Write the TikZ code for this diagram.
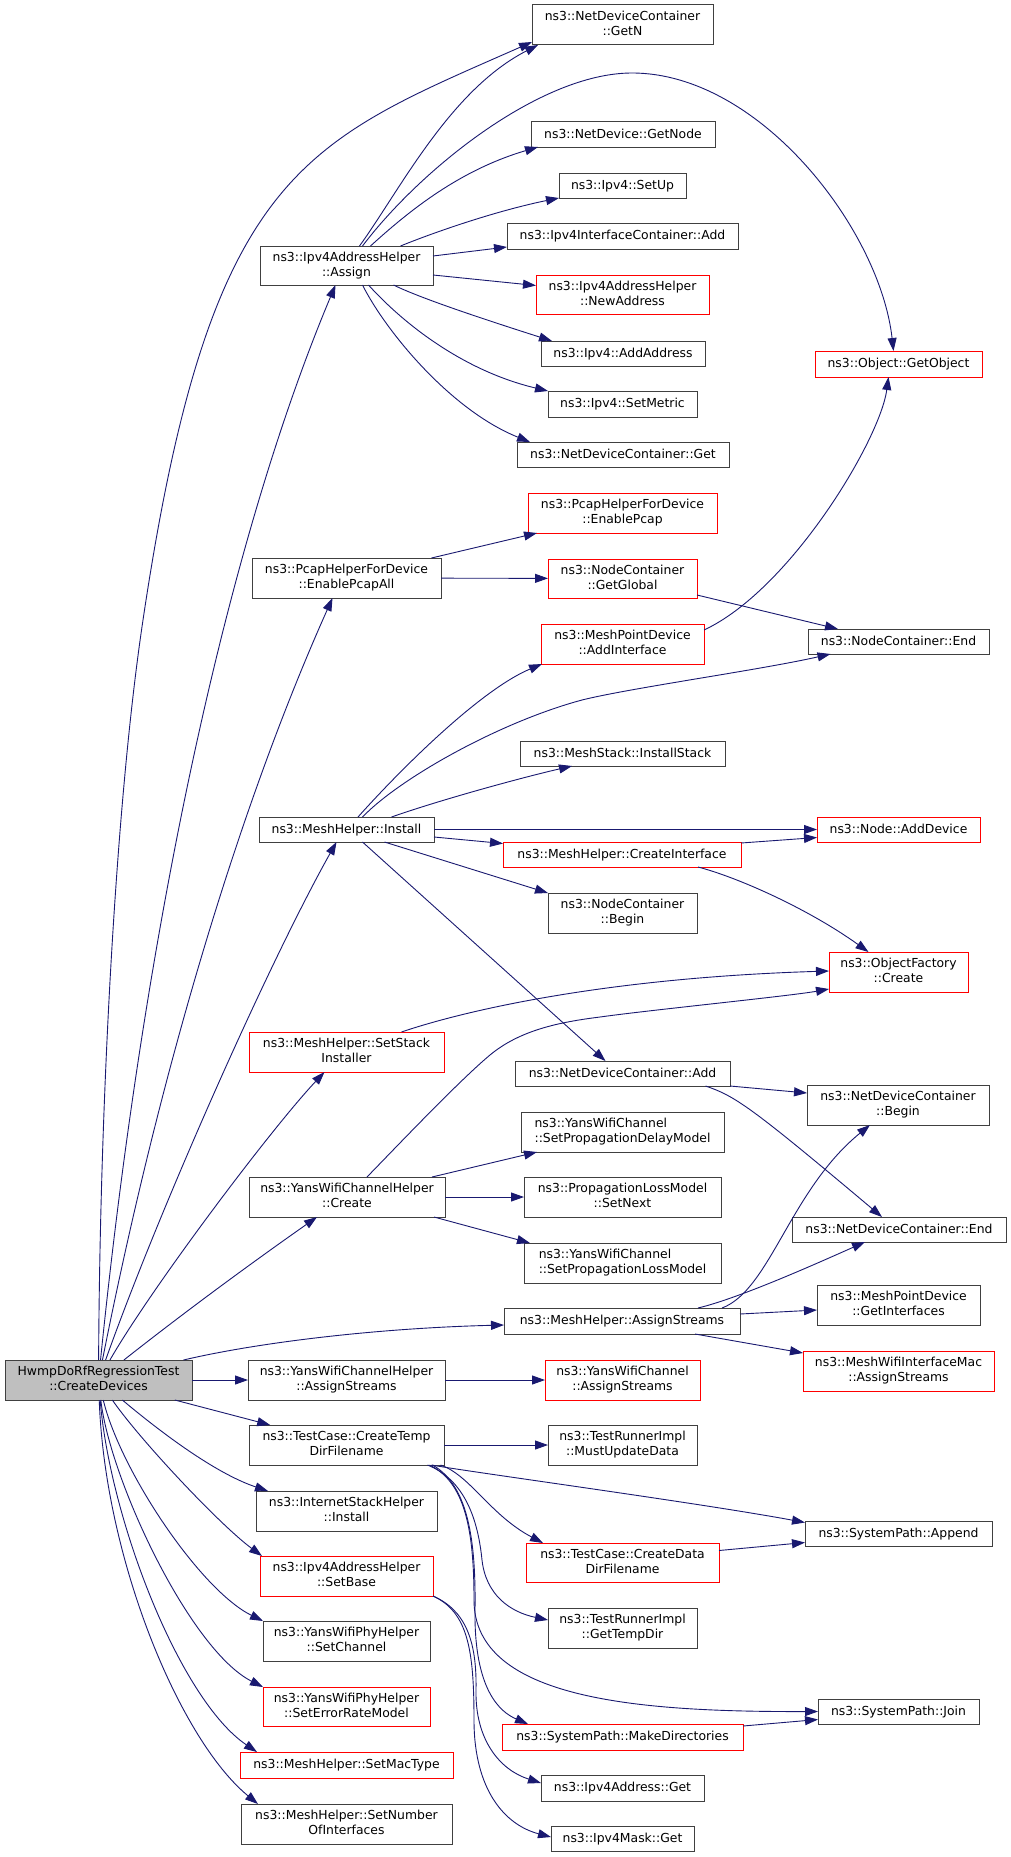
\documentclass[tikz,border=0pt]{standalone}
\usepackage{fontspec}
\setmainfont{DejaVu Sans}
\usetikzlibrary{arrows.meta}
\definecolor{edgeblue}{HTML}{191970}
\definecolor{boxgrey}{HTML}{404040}
\definecolor{boxred}{HTML}{FF0000}
\definecolor{rootfill}{HTML}{BFBFBF}
\newcommand{\nd}[7]{\node[#6,minimum width={(#4-#2)*1pt},minimum height={(#5-#3)*1pt}] (#1) at ({(#2+#4)/2},{(#3+#5)/2}) {#7};}
\begin{document}
\begin{tikzpicture}[x=1pt,y=-1pt,
 base/.style={rectangle,inner sep=0pt,outer sep=0pt,line width=1pt,font=\fontsize{12.4}{15}\selectfont,fill=white},
 bbox/.style={base,draw=boxgrey},
 rbox/.style={base,draw=boxred},
 gbox/.style={base,draw=boxgrey,fill=rootfill},
 one/.style={text height=9.5pt,text depth=2pt},
 two/.style={align=center,text height=24pt,text depth=2.5pt},
 ed/.style={draw=edgeblue,line width=0.9pt,-{Triangle[length=13pt,width=9pt]}}]
\useasboundingbox[fill=white] (0,0) rectangle (1011,1857);
% nodes
\nd{R}{5}{1360}{192}{1400}{two,gbox}{HwmpDoRfRegressionTest\\::CreateDevices}
\nd{GetN}{532}{5}{713}{45}{two,bbox}{ns3::NetDeviceContainer\\::GetN}
\nd{GetNode}{531}{122}{715}{147}{one,bbox}{ns3::NetDevice::GetNode}
\nd{SetUp}{559}{173}{686}{198}{one,bbox}{ns3::Ipv4::SetUp}
\nd{IICAdd}{507}{223}{738}{249}{one,bbox}{ns3::Ipv4InterfaceContainer::Add}
\nd{NewAddr}{536}{275}{709}{314}{two,rbox}{ns3::Ipv4AddressHelper\\::NewAddress}
\nd{AddAddr}{541}{341}{705}{366}{one,bbox}{ns3::Ipv4::AddAddress}
\nd{SetMetric}{548}{391}{697}{417}{one,bbox}{ns3::Ipv4::SetMetric}
\nd{NDCGet}{517}{442}{729}{467}{one,bbox}{ns3::NetDeviceContainer::Get}
\nd{EnPcap}{528}{493}{717}{533}{two,rbox}{ns3::PcapHelperForDevice\\::EnablePcap}
\nd{GetGlobal}{548}{559}{697}{598}{two,rbox}{ns3::NodeContainer\\::GetGlobal}
\nd{GetObject}{815}{351}{982}{377}{one,rbox}{ns3::Object::GetObject}
\nd{Assign}{260}{246}{433}{285}{two,bbox}{ns3::Ipv4AddressHelper\\::Assign}
\nd{EPA}{252}{558}{441}{598}{two,bbox}{ns3::PcapHelperForDevice\\::EnablePcapAll}
\nd{Install}{259}{817}{434}{842}{one,bbox}{ns3::MeshHelper::Install}
\nd{AddIf}{541}{624}{704}{664}{two,rbox}{ns3::MeshPointDevice\\::AddInterface}
\nd{NCEnd}{808}{629}{989}{654}{one,bbox}{ns3::NodeContainer::End}
\nd{InstStack}{520}{741}{725}{766}{one,bbox}{ns3::MeshStack::InstallStack}
\nd{AddDev}{817}{817}{980}{842}{one,rbox}{ns3::Node::AddDevice}
\nd{CreateIf}{503}{842}{741}{867}{one,rbox}{ns3::MeshHelper::CreateInterface}
\nd{NCBegin}{548}{893}{697}{933}{two,bbox}{ns3::NodeContainer\\::Begin}
\nd{SSI}{249}{1032}{444}{1072}{two,rbox}{ns3::MeshHelper::SetStack\\Installer}
\nd{OFCreate}{829}{952}{968}{992}{two,rbox}{ns3::ObjectFactory\\::Create}
\nd{NDCAdd}{515}{1061}{730}{1086}{one,bbox}{ns3::NetDeviceContainer::Add}
\nd{NDCBegin}{807}{1085}{989}{1125}{two,bbox}{ns3::NetDeviceContainer\\::Begin}
\nd{SPDM}{521}{1112}{724}{1152}{two,bbox,align=left}{ns3::YansWifiChannel\\::SetPropagationDelayModel}
\nd{YWCCreate}{249}{1177}{445}{1217}{two,bbox}{ns3::YansWifiChannelHelper\\::Create}
\nd{SetNext}{524}{1177}{721}{1217}{two,bbox}{ns3::PropagationLossModel\\::SetNext}
\nd{NDCEnd}{792}{1217}{1006}{1242}{one,bbox}{ns3::NetDeviceContainer::End}
\nd{SPLM}{524}{1243}{721}{1283}{two,bbox,align=left}{ns3::YansWifiChannel\\::SetPropagationLossModel}
\nd{MA}{504}{1308}{740}{1334}{one,bbox}{ns3::MeshHelper::AssignStreams}
\nd{GetIfs}{817}{1285}{980}{1325}{two,bbox}{ns3::MeshPointDevice\\::GetInterfaces}
\nd{MWIM}{803}{1351}{994}{1391}{two,rbox}{ns3::MeshWifiInterfaceMac\\::AssignStreams}
\nd{YWCAS}{248}{1360}{445}{1400}{two,bbox}{ns3::YansWifiChannelHelper\\::AssignStreams}
\nd{YWCA}{545}{1360}{700}{1400}{two,rbox}{ns3::YansWifiChannel\\::AssignStreams}
\nd{T}{249}{1425}{444}{1465}{two,bbox}{ns3::TestCase::CreateTemp\\DirFilename}
\nd{MUD}{548}{1425}{697}{1465}{two,bbox}{ns3::TestRunnerImpl\\::MustUpdateData}
\nd{Append}{805}{1521}{992}{1546}{one,bbox}{ns3::SystemPath::Append}
\nd{ISH}{256}{1491}{437}{1531}{two,bbox}{ns3::InternetStackHelper\\::Install}
\nd{CDDF}{526}{1543}{719}{1582}{two,rbox}{ns3::TestCase::CreateData\\DirFilename}
\nd{SetBase}{260}{1556}{433}{1596}{two,rbox}{ns3::Ipv4AddressHelper\\::SetBase}
\nd{GTD}{548}{1608}{697}{1648}{two,bbox}{ns3::TestRunnerImpl\\::GetTempDir}
\nd{SetChannel}{263}{1621}{430}{1661}{two,bbox}{ns3::YansWifiPhyHelper\\::SetChannel}
\nd{Join}{818}{1699}{979}{1724}{one,bbox}{ns3::SystemPath::Join}
\nd{SERM}{263}{1687}{430}{1726}{two,rbox}{ns3::YansWifiPhyHelper\\::SetErrorRateModel}
\nd{MakeDir}{502}{1724}{743}{1750}{one,rbox}{ns3::SystemPath::MakeDirectories}
\nd{SetMac}{240}{1752}{453}{1778}{one,rbox}{ns3::MeshHelper::SetMacType}
\nd{IAGet}{541}{1775}{704}{1801}{one,bbox}{ns3::Ipv4Address::Get}
\nd{SNOI}{241}{1804}{452}{1844}{two,bbox}{ns3::MeshHelper::SetNumber\\OfInterfaces}
\nd{IMGet}{551}{1826}{694}{1851}{one,bbox}{ns3::Ipv4Mask::Get}
% edges from root
\draw[ed] (R) .. controls (100,1100) and (116,800) .. (143,620) .. controls (210,170) and (303,143) .. ([yshift=3pt]GetN.south west);
\draw[ed] (R) .. controls (141,960) and (220,560) .. ([xshift=-11pt]Assign.south);
\draw[ed] (R) .. controls (162,1060) and (243,798) .. ([xshift=-14pt]EPA.south);
\draw[ed] (R) .. controls (159,1210) and (269,962) .. ([xshift=-10pt]Install.south);
\draw[ed] (R) .. controls (150,1290) and (270,1130) .. ([xshift=-22pt]SSI.south);
\draw[ed] (R) .. controls (200,1300) and (270,1250) .. ([xshift=-30pt]YWCCreate.south);
\draw[ed] (R) .. controls (260,1342) and (380,1328) .. ([yshift=-4pt]MA.west);
\draw[ed] (R) -- (YWCAS);
\draw[ed] (R) -- (T);
\draw[ed] (R) .. controls (170,1440) and (220,1475) .. ([xshift=12pt]ISH.north west);
\draw[ed] (R) .. controls (140,1440) and (220,1525) .. ([xshift=2pt]SetBase.north west);
\draw[ed] (R) .. controls (120,1470) and (200,1590) .. (SetChannel.north west);
\draw[ed] (R) .. controls (110,1480) and (190,1650) .. (SERM.north west);
\draw[ed] (R) .. controls (110,1520) and (180,1700) .. ([xshift=17pt]SetMac.north west);
\draw[ed] (R) .. controls (105,1560) and (180,1740) .. ([xshift=17pt]SNOI.north west);
% Assign
\draw[ed] ([xshift=13pt]Assign.north) .. controls (400,190) and (450,90) .. ([xshift=6pt]GetN.south west);
\draw[ed] ([xshift=16pt]Assign.north) .. controls (420,170) and (540,73) .. (632,73) .. controls (760,73) and (880,230) .. ([xshift=-5pt]GetObject.north);
\draw[ed] ([xshift=24pt]Assign.north) .. controls (410,210) and (460,170) .. ([xshift=7pt]GetNode.south west);
\draw[ed] ([xshift=54pt]Assign.north) .. controls (440,230) and (500,210) .. (SetUp.south west);
\draw[ed] ([yshift=9.5pt]Assign.east) -- ([yshift=-11pt]IICAdd.west);
\draw[ed] ([yshift=-9.5pt]Assign.east) -- ([yshift=9pt]NewAddr.west);
\draw[ed] ([xshift=47pt]Assign.south) .. controls (420,298) and (480,318) .. ([xshift=11pt]AddAddr.north west);
\draw[ed] ([xshift=22pt]Assign.south) .. controls (400,320) and (460,370) .. (SetMetric.north west);
\draw[ed] ([xshift=16pt]Assign.south) .. controls (385,330) and (450,410) .. ([xshift=13pt]NDCGet.north west);
% EnablePcapAll
\draw[ed] ([xshift=85pt]EPA.north) -- ([xshift=9pt]EnPcap.south west);
\draw[ed] (EPA) -- (GetGlobal);
\draw[ed] ([yshift=3pt]GetGlobal.south east) -- ([xshift=30pt]NCEnd.north west);
\draw[ed] ([yshift=14pt]AddIf.east) .. controls (790,590) and (880,440) .. ([xshift=-10pt]GetObject.south);
% Install
\draw[ed] ([xshift=11.5pt]Install.north) .. controls (400,770) and (480,690) .. ([xshift=1pt]AddIf.south west);
\draw[ed] ([xshift=16pt]Install.north) .. controls (400,778) and (500,722) .. (582,700) .. controls (630,688) and (760,670) .. ([xshift=-68pt]NCEnd.south);
\draw[ed] ([xshift=45pt]Install.north) .. controls (440,800) and (520,778) .. ([xshift=52pt]InstStack.south west);
\draw[ed] (Install) -- (AddDev);
\draw[ed] ([yshift=-7.5pt]Install.east) -- ([yshift=11pt]CreateIf.west);
\draw[ed] ([xshift=38pt]Install.south) -- (NCBegin.north west);
\draw[ed] ([xshift=16pt]Install.south) -- ([xshift=-17pt]NDCAdd.north);
% CreateInterface
\draw[ed] ([yshift=11.5pt]CreateIf.east) -- ([yshift=-8pt]AddDev.west);
\draw[ed] ([xshift=76pt]CreateIf.south) .. controls (740,878) and (810,910) .. ([xshift=-30pt]OFCreate.north);
% SetStackInstaller, Create
\draw[ed] ([xshift=55pt]SSI.north) .. controls (460,1012) and (600,978) .. ([yshift=1pt]OFCreate.west);
\draw[ed] ([xshift=20pt]YWCCreate.north) .. controls (400,1143) and (460,1080) .. (490,1055) .. controls (520,1030) and (560,1022) .. (600,1017) .. controls (650,1010) and (790,996) .. ([yshift=-17pt]OFCreate.west);
\draw[ed] ([xshift=85pt]YWCCreate.north) -- ([xshift=16pt]SPDM.south west);
\draw[ed] (YWCCreate) -- (SetNext);
\draw[ed] ([xshift=87pt]YWCCreate.south) -- ([xshift=6pt]SPLM.north west);
% NetDeviceContainer::Add
\draw[ed] (NDCAdd.south east) -- ([yshift=12pt]NDCBegin.west);
\draw[ed] ([xshift=83pt]NDCAdd.south) .. controls (735,1096) and (750,1106) .. ([xshift=-17pt]NDCEnd.north);
% MeshHelper::AssignStreams
\draw[ed] ([xshift=100pt]MA.north) .. controls (770,1290) and (790,1190) .. ([xshift=-28pt]NDCBegin.south);
\draw[ed] ([xshift=76pt]MA.north) .. controls (740,1298) and (820,1262) .. ([xshift=-34pt]NDCEnd.south);
\draw[ed] ([yshift=7pt]MA.east) -- ([yshift=-5pt]GetIfs.west);
\draw[ed] ([xshift=73pt]MA.south) -- ([yshift=18pt]MWIM.west);
\draw[ed] (YWCAS) -- (YWCA);
% CreateTempDirFilename
\draw[ed] (T) -- (MUD);
\draw[ed] ([xshift=85pt]T.south) .. controls (470,1472) and (700,1503) .. ([yshift=11pt]Append.west);
\draw[ed] ([xshift=94pt]T.south) .. controls (470,1475) and (490,1515) .. ([xshift=17pt]CDDF.north west);
\draw[ed] ([xshift=81pt]T.south) .. controls (465,1480) and (478,1520) .. (482,1560) .. controls (486,1595) and (510,1612) .. ([yshift=8pt]GTD.west);
\draw[ed] ([xshift=83pt]T.south) .. controls (465,1482) and (474,1530) .. (474,1600) .. controls (474,1700) and (640,1712) .. (Join.west);
\draw[ed] ([xshift=86pt]T.south) .. controls (468,1485) and (476,1540) .. (475,1610) .. controls (474,1690) and (500,1712) .. ([xshift=26pt]MakeDir.north west);
% SetBase
\draw[ed] (SetBase.south east) .. controls (465,1610) and (477,1640) .. (476,1690) .. controls (475,1740) and (500,1770) .. ([yshift=5pt]IAGet.west);
\draw[ed] (SetBase.south east) .. controls (468,1612) and (474,1650) .. (474,1720) .. controls (474,1790) and (505,1825) .. ([yshift=1.5pt]IMGet.west);
% others
\draw[ed] ([yshift=12pt]CDDF.east) -- ([yshift=-9pt]Append.west);
\draw[ed] ([yshift=11pt]MakeDir.east) -- ([yshift=-8pt]Join.west);
\end{tikzpicture}
\end{document}
